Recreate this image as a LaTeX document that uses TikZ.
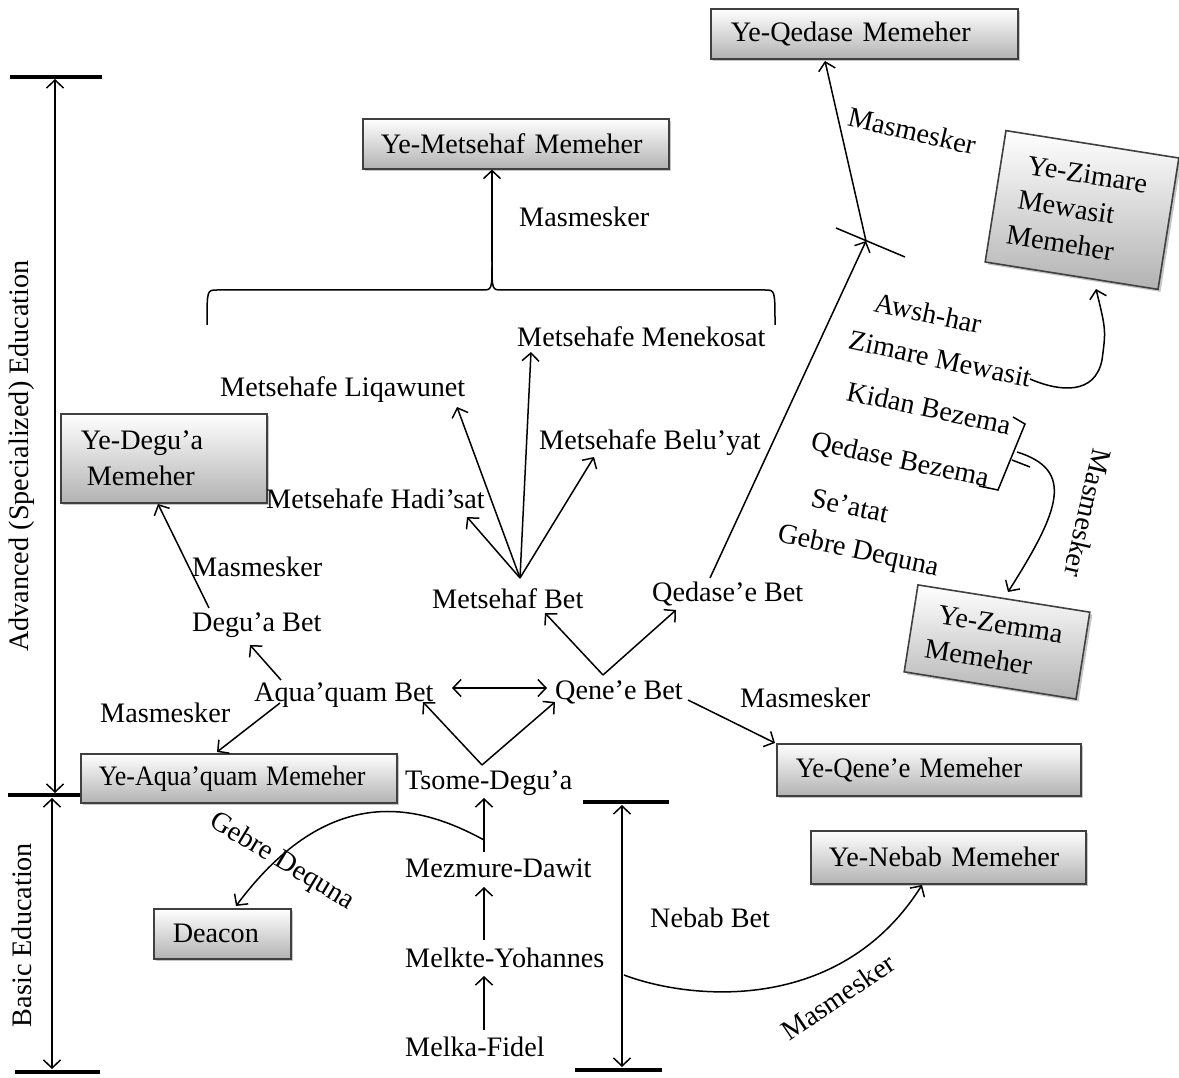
\documentclass[tikz,border=0pt]{standalone}
\usepackage{fontspec}
\usepackage{graphicx}
\setmainfont{Liberation Serif}
\usetikzlibrary{arrows.meta,shadows}
\begin{document}
\begin{tikzpicture}[x=1pt,y=-1pt,
  every node/.style={font=\fontsize{28.2}{36}\selectfont, inner sep=0pt},
  box/.style={draw=black!75, line width=1.6pt, top color=white, bottom color=black!30,
    drop shadow={shadow xshift=2.5pt, shadow yshift=-2.5pt, opacity=0.45}, inner ysep=2pt, align=left},
  arr/.style={line width=1.5pt, -{Straight Barb[length=8pt,width=17pt]}},
  darr/.style={line width=1.5pt, {Straight Barb[length=8pt,width=17pt]}-{Straight Barb[length=8pt,width=17pt]}},
  ln/.style={line width=1.5pt},
  bar/.style={line width=4.5pt},
  lbl/.style={anchor=base west},
]
\useasboundingbox (0,0) rectangle (1179,1078);

% ---------- scales ----------
\coordinate (advT) at (55,77);
\coordinate (advB) at (55,795);
\coordinate (basB) at (52,1072);
\draw[bar] (10,77) -- (102,77);
\draw[bar] (8,795) -- (90,795);
\draw[bar] (15,1072) -- (100,1072);
\draw[darr] ([yshift=-2pt]advT) -- ([yshift=2pt]advB);
\draw[darr] (52,798) -- ([yshift=3pt]basB);
\node[rotate=90] (advlbl) at (22,456) {Advanced (Specialized) Education};
\node[rotate=90] (baslbl) at (22,935) {Basic Education};

\coordinate (nebT) at (622,802);
\coordinate (nebB) at (622,1070);
\draw[bar] (583,802) -- (669,802);
\draw[bar] (575,1070) -- (662,1070);
\draw[darr] ([yshift=-3pt]nebT) -- ([yshift=3pt]nebB);
\node[lbl] (nebbet) at (650,927) {Nebab Bet};

% ---------- boxes ----------
\node[box, anchor=north west, minimum height=50pt, text width=267pt, inner xsep=20pt] (qedbox) at (710,8) {Ye-Qedase Memeher};
\node[box, anchor=north west, minimum height=50pt, text width=270pt, inner xsep=18pt] (metbox) at (362,118) {Ye-Metsehaf Memeher};
\node[box, anchor=north west, minimum height=89pt, text width=166pt, inner xsep=20pt] (degbox) at (60,413) {Ye-Degu'a\\\hspace*{6pt}Memeher};
\node[box, anchor=north west, minimum height=49pt, text width=280pt, inner xsep=18pt] (aqbox) at (80,753) {\scalebox{0.92}[1]{Ye-Aqua'quam Memeher}};
\node[box, anchor=north west, minimum height=52pt, text width=266pt, inner xsep=19pt] (qenebox) at (776,743) {\scalebox{0.95}[1]{Ye-Qene'e Memeher}};
\node[box, anchor=north west, minimum height=53pt, text width=239pt, inner xsep=18pt] (nebbox) at (810,830) {Ye-Nebab Memeher};
\node[box, anchor=north west, minimum height=50pt, text width=99pt, inner xsep=19pt] (deabox) at (153,908) {Deacon};
\node[box, rotate=-9, minimum height=133pt, text width=141pt, inner xsep=17pt] (zimbox) at (1082,210) {\hspace*{10pt}Ye-Zimare\\\hspace*{6pt}Mewasit\\Memeher};
\node[box, rotate=-9, minimum height=88pt, text width=140pt, inner xsep=17pt] (zembox) at (997,642) {\hspace*{8pt}Ye-Zemma\\Memeher};

% ---------- plain labels ----------
\node[lbl] (m1) at (519,227) {Masmesker};
\node[lbl] (menek) at (517,346) {Metsehafe Menekosat};
\node[lbl] (liqaw) at (220,396) {Metsehafe Liqawunet};
\node[lbl] (beluy) at (539,449) {Metsehafe Belu'yat};
\node[lbl] (hadis) at (266,508) {Metsehafe Hadi'sat};
\node[lbl] (metbet) at (432,608) {Metsehaf Bet};
\node[lbl] (qedbet) at (652,601) {Qedase'e Bet};
\node[lbl] (m2) at (192,576) {Masmesker};
\node[lbl] (degbet) at (192,631) {Degu'a Bet};
\node[lbl] (aqbet) at (254,701) {Aqua'quam Bet};
\node[lbl] (qenebet) at (555,699) {Qene'e Bet};
\node[lbl] (m3) at (740,707) {Masmesker};
\node[lbl] (m4) at (100,722) {Masmesker};
\node[lbl] (tsome) at (405,789) {Tsome-Degu'a};
\node[lbl] (mezm) at (405,877) {Mezmure-Dawit};
\node[lbl] (melkte) at (405,967) {Melkte-Yohannes};
\node[lbl] (melka) at (405,1056) {Melka-Fidel};

% rotated labels
\node[rotate=-31] (gebL) at (282,862) {Gebre Dequna};
\node[rotate=34] (m5) at (838,997) {Masmesker};
\node[rotate=-13] (m6) at (912,131) {Masmesker};
\node[rotate=-12] (awsh) at (928,313) {Awsh-har};
\node[rotate=-12] (zimw) at (940,359) {Zimare Mewasit};
\node[rotate=-12] (kidan) at (929,408) {Kidan Bezema};
\node[rotate=-12] (qedbez) at (900,461) {Qedase Bezema};
\node[rotate=-12] (seatat) at (850,506) {Se'atat};
\node[rotate=-12] (gebR) at (858,552) {Gebre Dequna};
\node[rotate=-103] (m7) at (1088,513) {Masmesker};

% ---------- connectors ----------
% brace to Ye-Metsehaf
\coordinate (cusp) at (492,262);
\draw[ln] (207,325) .. controls (207,290) .. (217,290) -- (482,290) .. controls (492,290) .. (cusp);
\draw[ln] (775,325) .. controls (775,290) .. (765,290) -- (502,290) .. controls (492,290) .. (cusp);
\draw[arr] (cusp) -- (metbox.south -| cusp);

% fan from Metsehaf Bet
\coordinate (fan) at (520,578);
\coordinate (tLiq) at (457,407);
\coordinate (tMen) at (531,352);
\coordinate (tBel) at (594,457);
\coordinate (tHad) at (467,517);
\draw[arr] (fan) -- (tLiq);
\draw[arr] (fan) -- (tMen);
\draw[arr] (fan) -- (tBel);
\draw[arr] (fan) -- (tHad);

% Qene'e Bet V
\coordinate (qv) at (603,675);
\coordinate (tMet) at (545,613);
\coordinate (tQed) at (676,610);
\draw[arr] (qv) -- (tMet);
\draw[arr] (qv) -- (tQed);

% Qedase'e Bet to Ye-Qedase
\coordinate (qs) at (710,578);
\coordinate (cross) at (866,241);
\coordinate (tQbox) at (825,61);
\draw[arr] (qs) -- (cross);
\draw[arr] (cross) -- (tQbox);
\draw[ln] (836,228) -- (905,257);

% Aqua'quam <-> Qene'e
\coordinate (dL) at (452,688);
\coordinate (dR) at (547,688);
\draw[darr] (dL) -- (dR);

% Tsome-Degu'a V
\coordinate (tv) at (482,765);
\coordinate (tAq) at (423,702);
\coordinate (tQe) at (555,702);
\draw[arr] (tv) -- (tAq);
\draw[arr] (tv) -- (tQe);

% Qene'e Bet -> Ye-Qene'e
\coordinate (qn1) at (688,700);
\draw[arr] (qn1) -- (775,743);

% Aqua'quam Bet -> Degu'a Bet -> Ye-Degu'a
\coordinate (aq1) at (281,680);
\coordinate (tDb) at (250,645);
\draw[arr] (aq1) -- (tDb);
\coordinate (db1) at (209,608);
\draw[arr] (db1) -- (158,504);
% Aqua'quam Bet -> Ye-Aqua'quam
\coordinate (aq2) at (280,703);
\draw[arr] (aq2) -- (217,752);

% vertical basic chain
\draw[arr] (484,1030) -- (484,976);
\draw[arr] (484,940) -- (484,887);
\draw[arr] (484,852) -- (484,798);

% Gebre Dequna -> Deacon
\coordinate (gd) at (484,840);
\draw[arr] (gd) .. controls (420,805) and (330,780) .. (236,906);

% Nebab -> Ye-Nebab
\coordinate (nb) at (624,975);
\draw[arr] (nb) .. controls (690,1000) and (840,1015) .. (922,885);

% Zimare Mewasit -> Ye-Zimare
\coordinate (zm) at (1030,379);
\draw[arr] (zm) .. controls (1060,392) and (1095,395) .. (1102,360) .. controls (1106,330) .. (1096,289);

% bracket and arrow to Ye-Zemma
\draw[ln] (1013,417) -- (1025,424) -- (998,490) -- (979,486);
\coordinate (br) at (1017,452);
\draw[arr] (br) .. controls (1075,470) and (1060,510) .. (1008,592);
\draw[ln] (1012,460) -- (1030,467);
\end{tikzpicture}
\end{document}
